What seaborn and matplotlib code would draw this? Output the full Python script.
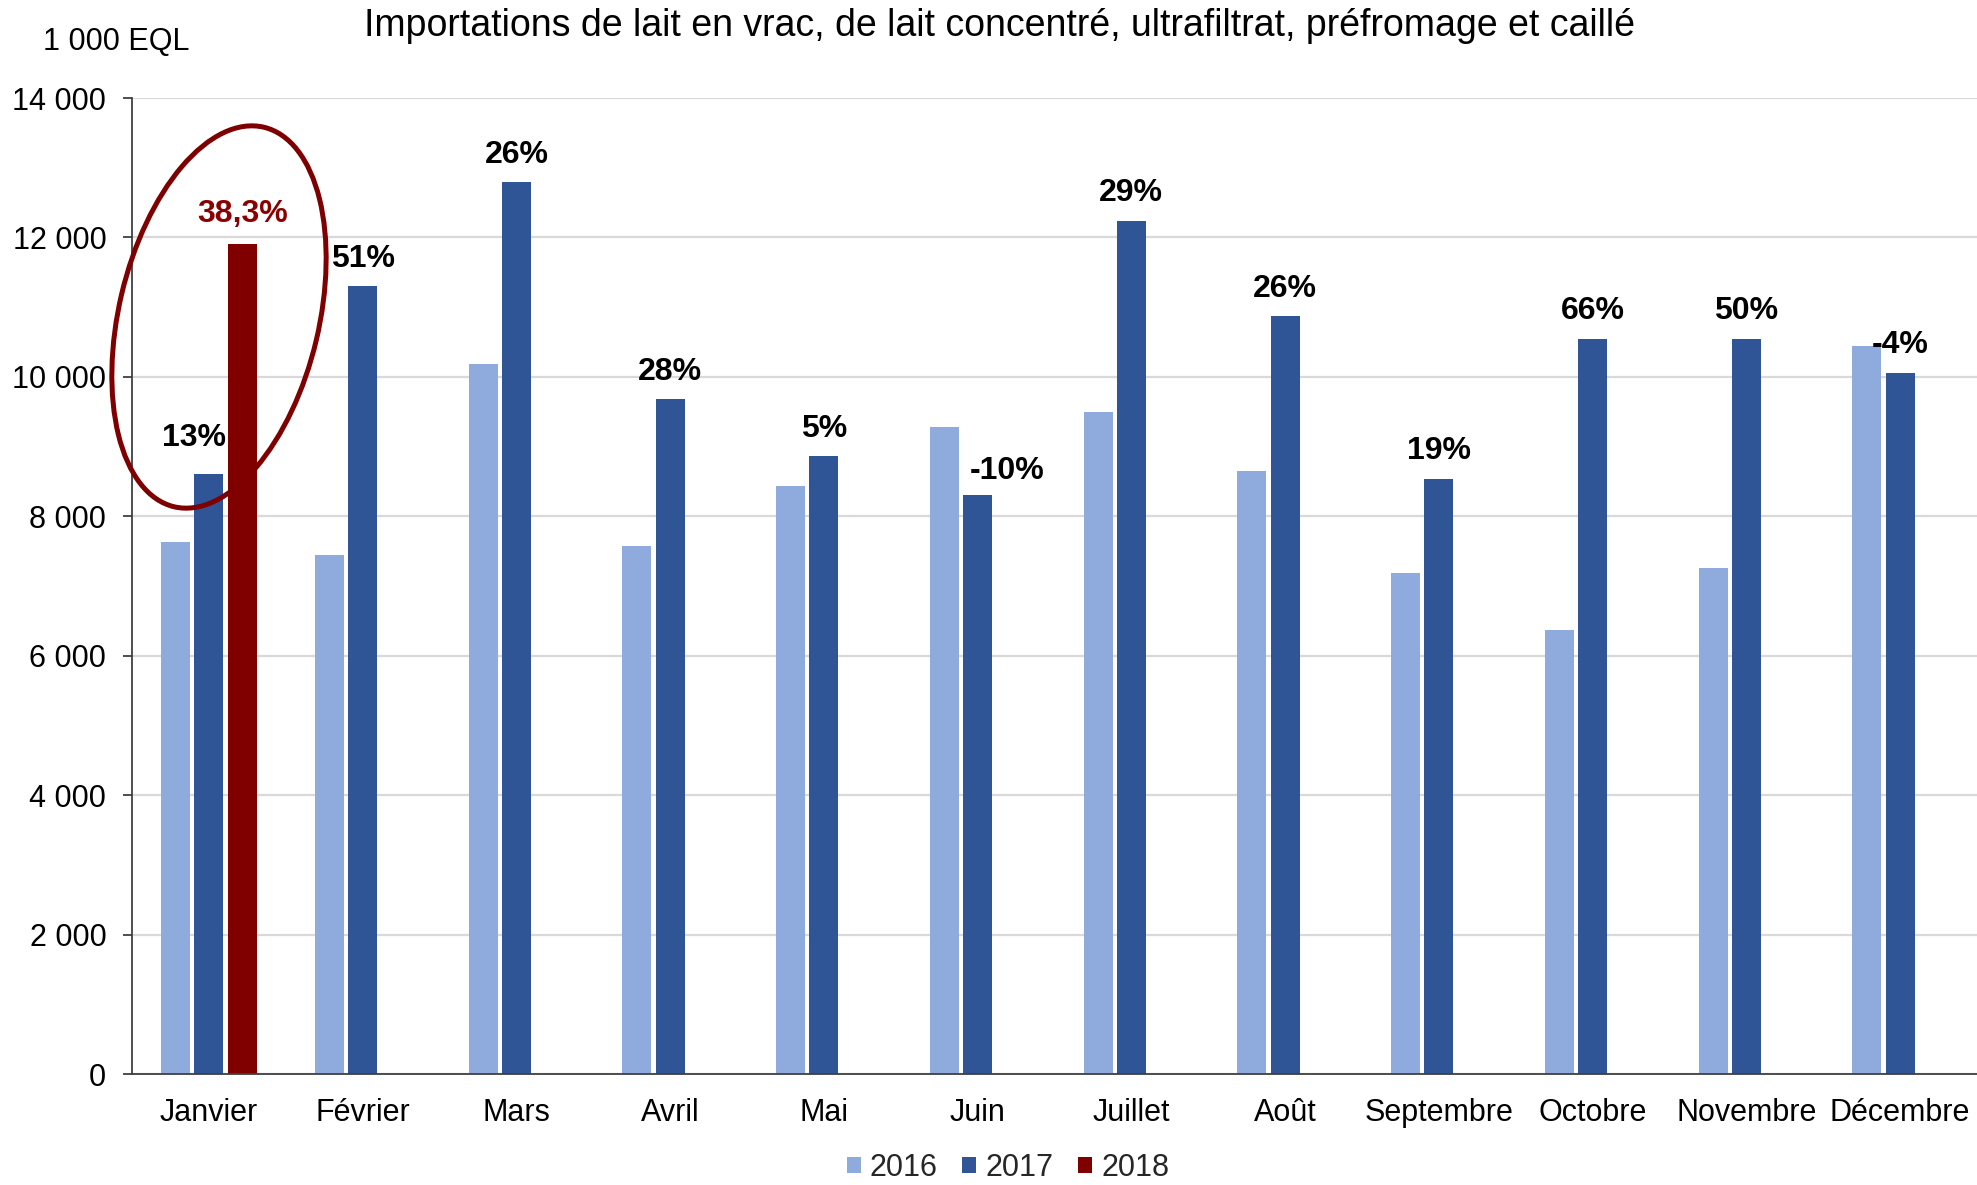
import matplotlib
matplotlib.use("Agg")

import matplotlib.pyplot as plt
import seaborn as sns
import pandas as pd
from matplotlib.patches import Ellipse
from matplotlib.ticker import FuncFormatter

output_filename = "out.png"

months = ["Janvier", "Février", "Mars", "Avril", "Mai", "Juin", "Juillet",
          "Août", "Septembre", "Octobre", "Novembre", "Décembre"]
years = ["2016", "2017", "2018"]
vals_2016 = [7630, 7450, 10180, 7580, 8430, 9280, 9500, 8650, 7180, 6370, 7260, 10440]
vals_2017 = [8610, 11300, 12790, 9680, 8860, 8300, 12240, 10870, 8540, 10550, 10550, 10060]
vals_2018 = [11900]  # janvier seulement
pct_labels = ["13%", "51%", "26%", "28%", "5%", "-10%", "29%", "26%", "19%", "66%", "50%", "-4%"]
label_2018 = "38,3%"
colors = ["#8FAADC", "#2F5597", "#800000"]

rows = []
for m, v in zip(months, vals_2016):
    rows.append((m, "2016", v))
for m, v in zip(months, vals_2017):
    rows.append((m, "2017", v))
for m, v in zip(months[:len(vals_2018)], vals_2018):
    rows.append((m, "2018", v))
df = pd.DataFrame(rows, columns=["mois", "annee", "valeur"])

sns.set_theme(style="white")
plt.rcParams['font.family'] = ['Liberation Sans', 'DejaVu Sans']

fig = plt.figure(figsize=(19.77, 11.85), dpi=100)
ax = fig.add_axes([132/1977, 1 - 1074/1185, 1 - 132/1977, (1074 - 98)/1185])

sns.barplot(data=df, x="mois", y="valeur", hue="annee", order=months, hue_order=years,
            palette=colors, saturation=1, width=0.65, gap=0.13, linewidth=0,
            errorbar=None, ax=ax)

ax.set_xlim(-0.5, 11.5)
ax.set_ylim(0, 14000)
ax.set_yticks(range(0, 14001, 2000))
ax.yaxis.set_major_formatter(FuncFormatter(lambda v, p: f"{int(v):,}".replace(",", " ")))
ax.yaxis.grid(True, color="#D9D9D9", linewidth=1.6)
ax.set_axisbelow(True)
ax.set_xlabel("")
ax.set_ylabel("")

for s in ["top", "right"]:
    ax.spines[s].set_visible(False)
for s in ["left", "bottom"]:
    ax.spines[s].set_color("#404040")
    ax.spines[s].set_linewidth(1.3)

ax.set_xticks(range(len(months)))
ax.set_xticklabels(months)
ax.set_xticks([i - 0.5 for i in range(len(months) + 1)], minor=True)
ax.tick_params(axis="x", which="major", length=0, pad=17, labelsize=22, labelcolor="black")
ax.tick_params(axis="x", which="minor", length=7, width=1.3, color="#404040", direction="out")
ax.tick_params(axis="y", which="major", length=6.5, width=1.3, color="#404040", direction="out",
               pad=12, labelsize=22, labelcolor="black", left=True)

# étiquettes de variation au-dessus des barres 2017
dx = {0: -11, 5: 21}
dy = {0: 20, 5: 12}
for i, (bar, lab) in enumerate(zip(ax.containers[1], pct_labels)):
    x = bar.get_x() + bar.get_width() / 2
    ax.annotate(lab, (x, bar.get_height()), xytext=(dx.get(i, 0), dy.get(i, 14)),
                textcoords="offset points", ha="center", va="baseline",
                fontsize=23, fontweight="bold", color="black")

red_bar = ax.containers[2][0]
ax.annotate(label_2018, (red_bar.get_x() + red_bar.get_width() / 2, red_bar.get_height()),
            xytext=(0, 16), textcoords="offset points", ha="center", va="baseline",
            fontsize=23, fontweight="bold", color="#8B0000")

# ellipse autour de janvier
ell = Ellipse((2.19, 8.68), width=2.0, height=3.9, angle=-13.3, fill=False,
              edgecolor="#7F0000", linewidth=3.6, transform=fig.dpi_scale_trans, zorder=5)
fig.add_artist(ell)

handles, labels = ax.get_legend_handles_labels()
if ax.get_legend() is not None:
    ax.get_legend().remove()
fig.legend(handles, labels, loc="center", bbox_to_anchor=(1008/1977, 17/1185), ncol=3,
           frameon=False, fontsize=22, handlelength=0.46, handleheight=0.46,
           handletextpad=0.3, columnspacing=0.8, borderpad=0.1)

fig.text(999/1977, 1 - 26/1185,
         "Importations de lait en vrac, de lait concentré, ultrafiltrat, préfromage et caillé",
         ha="center", va="center", fontsize=27, color="black")
fig.text(43/1977, 1 - 42/1185, "1 000 EQL", ha="left", va="center", fontsize=22, color="black")

plt.savefig(output_filename, dpi=100)
